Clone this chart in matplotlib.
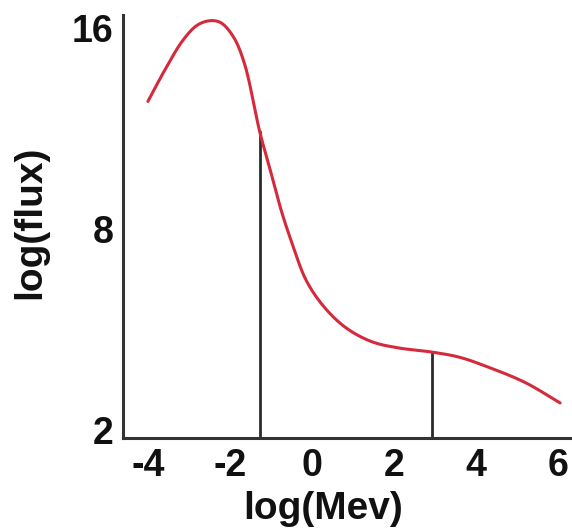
import matplotlib
matplotlib.use("Agg")
import matplotlib.pyplot as plt
import numpy as np

# Data (y in tick-position units: 2 -> "2", 9 -> "8", 16 -> "16")
energy = [-4.0, -3.6, -3.15, -2.8, -2.49, -2.22, -1.91, -1.64, -1.27, -1.02, -0.75,
          -0.48, -0.13, 0.32, 0.85, 1.47, 2.1, 2.94, 3.61, 4.32, 5.21, 6.06]
flux = [13.44, 14.5, 15.56, 16.09, 16.25, 16.18, 15.68, 14.74, 12.38, 11.08, 9.66,
        8.49, 7.19, 6.25, 5.54, 5.07, 4.86, 4.71, 4.53, 4.18, 3.65, 2.94]
marker_x = [-1.27, 2.94]
x_ticks = [-4, -2, 0, 2, 4, 6]
x_tick_labels = ["-4", "-2", "0", "2", "4", "6"]
y_tick_pos = [2, 9, 16]
y_tick_labels = ["2", "8", "16"]

plt.rcParams['font.family'] = ['Liberation Sans', 'DejaVu Sans']

fig = plt.figure(figsize=(5.72, 5.31), dpi=100)
ax = fig.add_axes([0.2156, 0.1746, 0.7844, 0.7972])

ax.set_xlim(-4.6, 6.35)
ax.set_ylim(1.71, 16.45)


def centripetal_cr(px, py, n_per=30, alpha=0.5):
    # scale to roughly equal visual units before computing knot spacing
    P = np.column_stack([np.asarray(px) * 41.0, np.asarray(py) * 28.7])
    P = np.vstack([2 * P[0] - P[1], P, 2 * P[-1] - P[-2]])
    out = []
    for i in range(1, len(P) - 2):
        p0, p1, p2, p3 = P[i - 1], P[i], P[i + 1], P[i + 2]
        t0 = 0.0
        t1 = t0 + np.linalg.norm(p1 - p0) ** alpha
        t2 = t1 + np.linalg.norm(p2 - p1) ** alpha
        t3 = t2 + np.linalg.norm(p3 - p2) ** alpha
        for t in np.linspace(t1, t2, n_per, endpoint=False):
            a1 = (t1 - t) / (t1 - t0) * p0 + (t - t0) / (t1 - t0) * p1
            a2 = (t2 - t) / (t2 - t1) * p1 + (t - t1) / (t2 - t1) * p2
            a3 = (t3 - t) / (t3 - t2) * p2 + (t - t2) / (t3 - t2) * p3
            b1 = (t2 - t) / (t2 - t0) * a1 + (t - t0) / (t2 - t0) * a2
            b2 = (t3 - t) / (t3 - t1) * a2 + (t - t1) / (t3 - t1) * a3
            c = (t2 - t) / (t2 - t1) * b1 + (t - t1) / (t2 - t1) * b2
            out.append(c)
    out.append(P[-2])
    out = np.array(out)
    return out[:, 0] / 41.0, out[:, 1] / 28.7


sx, sy = centripetal_cr(energy, flux)
ax.plot(sx, sy, color='#d42a3c', lw=2.2, solid_capstyle='round', zorder=3)

for mx in marker_x:
    my = np.interp(mx, sx, sy)
    ax.plot([mx, mx], [1.71, my], color='#2b2b2b', lw=2.0, zorder=2)

for s in ['top', 'right']:
    ax.spines[s].set_visible(False)
for s in ['left', 'bottom']:
    ax.spines[s].set_color('#333333')
    ax.spines[s].set_linewidth(2.2)

ax.set_xticks(x_ticks)
ax.set_xticklabels(x_tick_labels)
ax.set_yticks(y_tick_pos)
ax.set_yticklabels(y_tick_labels)
ax.tick_params(length=0, labelsize=27, pad=7)
for lab in ax.get_xticklabels() + ax.get_yticklabels():
    lab.set_fontweight('bold')
    lab.set_color('#111111')

ax.set_xlabel("log(Mev)", fontsize=28, fontweight='bold', color='#111111')
ax.set_ylabel("log(flux)", fontsize=28, fontweight='bold', color='#111111')
ax.xaxis.set_label_coords(0.445, -0.125)
ax.yaxis.set_label_coords(-0.168, 0.511)

fig.savefig("out.png", dpi=100)
